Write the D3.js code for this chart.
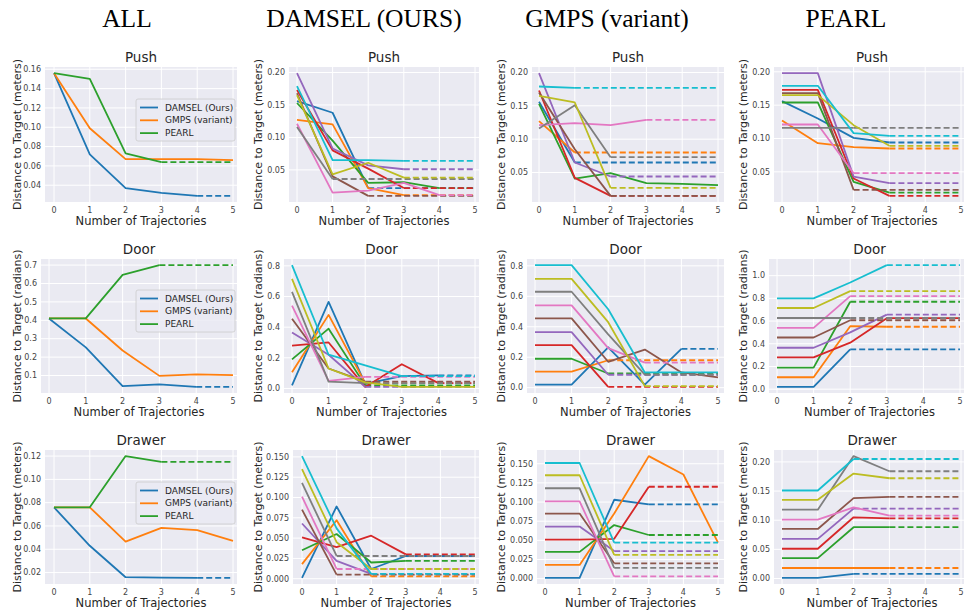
<!DOCTYPE html>
<html>
<head>
<meta charset="utf-8">
<script src="https://cdn.jsdelivr.net/npm/d3@7"></script>
<style>
  body { margin: 0; background: #fff; }
  svg { display: block; }
</style>
</head>
<body>
<svg id="chart" width="964" height="610"></svg>
<script>
// ---- data ----
var steps = [0, 1, 2, 3, 4, 5];
var columnTitles = ["ALL", "DAMSEL (OURS)", "GMPS (variant)", "PEARL"];
var taskNames = ["Push", "Door", "Drawer"];
var units = ["meters", "radians", "meters"];
var methodNames = ["DAMSEL (Ours)", "GMPS (variant)", "PEARL"];

// "ALL" column: one series per method (short series continue dashed to 5)
var allPush = [
  [0.156, 0.072, 0.037, 0.032, 0.029],
  [0.156, 0.099, 0.067, 0.067, 0.067, 0.066],
  [0.156, 0.150, 0.073, 0.064]
];
var allDoor = [
  [0.41, 0.253, 0.042, 0.052, 0.038],
  [0.41, 0.41, 0.236, 0.098, 0.106, 0.102],
  [0.41, 0.41, 0.647, 0.70]
];
var allDrawer = [
  [0.076, 0.043, 0.016, 0.0157, 0.0154],
  [0.076, 0.076, 0.0466, 0.0584, 0.0564, 0.0472],
  [0.076, 0.076, 0.120, 0.115]
];

// per-method columns: ten test tasks each
var damselPush = [
  [0.156, 0.138, 0.022],
  [0.127, 0.120, 0.022, 0.011],
  [0.153, 0.095, 0.030, 0.031, 0.022],
  [0.173, 0.080, 0.052, 0.022],
  [0.199, 0.083, 0.057, 0.051],
  [0.168, 0.040, 0.010],
  [0.121, 0.015, 0.018, 0.030, 0.011],
  [0.116, 0.036],
  [0.165, 0.043, 0.061, 0.038],
  [0.179, 0.065, 0.065, 0.064]
];
var gmpsPush = [
  [0.156, 0.065],
  [0.127, 0.080],
  [0.153, 0.041, 0.049, 0.034, 0.033, 0.031],
  [0.173, 0.042, 0.015],
  [0.199, 0.065, 0.044],
  [0.170, 0.085, 0.015],
  [0.121, 0.124, 0.121, 0.129],
  [0.116, 0.151, 0.073],
  [0.165, 0.155, 0.027],
  [0.179, 0.177]
];
var pearlPush = [
  [0.156, 0.130, 0.101, 0.094],
  [0.127, 0.093, 0.087, 0.085],
  [0.154, 0.154, 0.035, 0.019],
  [0.173, 0.173, 0.040, 0.014],
  [0.198, 0.198, 0.043, 0.033],
  [0.168, 0.168, 0.023],
  [0.121, 0.121, 0.048],
  [0.116, 0.116, 0.116],
  [0.165, 0.165, 0.120, 0.089],
  [0.179, 0.179, 0.108, 0.104]
];

var damselDoor = [
  [0.02, 0.565, 0.03, 0.08, 0.085],
  [0.105, 0.48, 0.035],
  [0.19, 0.39, 0.02],
  [0.28, 0.30, 0.01, 0.158, 0.035],
  [0.365, 0.22, 0.01],
  [0.455, 0.13, 0.045],
  [0.54, 0.05, 0.075],
  [0.63, 0.045, 0.035],
  [0.715, 0.13, 0.04, 0.01, 0.01, 0.01],
  [0.805, 0.22, 0.15, 0.08]
];
var gmpsDoor = [
  [0.02, 0.02, 0.265, 0.02, 0.255],
  [0.105, 0.105, 0.18],
  [0.19, 0.19, 0.093],
  [0.28, 0.28, 0.005],
  [0.365, 0.365, 0.085],
  [0.455, 0.455, 0.17, 0.25, 0.10, 0.067],
  [0.54, 0.54, 0.26, 0.165],
  [0.63, 0.63, 0.35, 0.085],
  [0.715, 0.715, 0.43, 0.01],
  [0.805, 0.805, 0.515, 0.10, 0.10, 0.10]
];
var pearlDoor = [
  [0.02, 0.02, 0.35],
  [0.105, 0.105, 0.555, 0.55],
  [0.19, 0.19, 0.77],
  [0.28, 0.28, 0.41, 0.625, 0.625, 0.625],
  [0.365, 0.365, 0.50, 0.657],
  [0.455, 0.455, 0.607],
  [0.54, 0.54, 0.82],
  [0.627, 0.627, 0.627],
  [0.715, 0.715, 0.864],
  [0.80, 0.80, 0.94, 1.093]
];

var damselDrawer = [
  [0.001, 0.089, 0.012, 0.028],
  [0.018, 0.072, 0.003],
  [0.035, 0.055, 0.020, 0.022],
  [0.051, 0.039, 0.053, 0.030],
  [0.068, 0.022, 0.006],
  [0.085, 0.005],
  [0.101, 0.012],
  [0.118, 0.028],
  [0.135, 0.045, 0.012],
  [0.151, 0.062, 0.006]
];
var gmpsDrawer = [
  [0.001, 0.001, 0.103, 0.097],
  [0.018, 0.018, 0.085, 0.160, 0.136, 0.047],
  [0.035, 0.035, 0.070, 0.057],
  [0.051, 0.051, 0.052, 0.120],
  [0.068, 0.068, 0.036],
  [0.085, 0.085, 0.020],
  [0.101, 0.101, 0.003],
  [0.118, 0.118, 0.014],
  [0.135, 0.135, 0.031],
  [0.151, 0.151, 0.047]
];
var pearlDrawer = [
  [0.001, 0.001, 0.008],
  [0.018, 0.018, 0.018, 0.018],
  [0.035, 0.035, 0.088, 0.088],
  [0.051, 0.051, 0.105, 0.103],
  [0.068, 0.068, 0.120],
  [0.085, 0.085, 0.138, 0.140],
  [0.101, 0.101, 0.122, 0.108],
  [0.118, 0.118, 0.210, 0.184],
  [0.135, 0.135, 0.180, 0.172],
  [0.151, 0.151, 0.205]
];

// y tick values per panel (row-major)
var yTicks = [
  [0.04, 0.06, 0.08, 0.10, 0.12, 0.14, 0.16],
  [0.05, 0.10, 0.15, 0.20],
  [0.05, 0.10, 0.15, 0.20],
  [0.05, 0.10, 0.15, 0.20],
  [0.1, 0.2, 0.3, 0.4, 0.5, 0.6, 0.7],
  [0.0, 0.2, 0.4, 0.6, 0.8],
  [0.0, 0.2, 0.4, 0.6, 0.8],
  [0.0, 0.2, 0.4, 0.6, 0.8, 1.0],
  [0.02, 0.04, 0.06, 0.08, 0.10, 0.12],
  [0.000, 0.025, 0.050, 0.075, 0.100, 0.125, 0.150],
  [0.000, 0.025, 0.050, 0.075, 0.100, 0.125, 0.150],
  [0.00, 0.05, 0.10, 0.15, 0.20]
];
var yDecimals = [2, 2, 2, 2, 1, 1, 1, 1, 2, 3, 3, 2];

var panelData = [
  allPush, damselPush, gmpsPush, pearlPush,
  allDoor, damselDoor, gmpsDoor, pearlDoor,
  allDrawer, damselDrawer, gmpsDrawer, pearlDrawer
];

// ---- layout ----
var rowTop = [67, 259, 450];
var rowBottom = [202, 393, 584];
var colTitleX = [127, 364, 607, 846];
var yLabelX = [17, 258, 501, 743];
// plot box left/right and pixel of x=0 / x=5 for each panel
var boxes = [
  {left: 45, right: 237, x0: 54, x5: 233},
  {left: 289, right: 479, x0: 297, x5: 475},
  {left: 532, right: 724, x0: 539, x5: 718},
  {left: 774, right: 970, x0: 782, x5: 961},
  {left: 41, right: 237, x0: 49, x5: 233},
  {left: 284, right: 479, x0: 292, x5: 475},
  {left: 527, right: 724, x0: 535, x5: 718},
  {left: 769, right: 970, x0: 777, x5: 960},
  {left: 45, right: 237, x0: 54, x5: 233},
  {left: 293, right: 479, x0: 302, x5: 475},
  {left: 537, right: 724, x0: 545, x5: 718},
  {left: 774, right: 970, x0: 782, x5: 961}
];
var legendTop = [99, 290, 482];

var colors = d3.schemeCategory10;
var bg = "#EAEAF2";
var font = "DejaVu Sans, Noto Sans, sans-serif";
var lineW = 1.8;

var svg = d3.select("#chart");

// column headers
svg.selectAll(".coltitle")
  .data(columnTitles)
  .enter()
  .append("text")
  .attr("class", "coltitle")
  .attr("x", function(d, i) { return colTitleX[i]; })
  .attr("y", 27)
  .attr("text-anchor", "middle")
  .style("font-family", "Liberation Serif, Times New Roman, serif")
  .style("font-size", "25.5px")
  .style("fill", "#000")
  .text(function(d) { return d; });

panelData.forEach(function(series, p) {
  var row = Math.floor(p / 4);
  var col = p % 4;
  var b = boxes[p];
  var top = rowTop[row], bottom = rowBottom[row];

  var lo = d3.min(series, function(s) { return d3.min(s); });
  var hi = d3.max(series, function(s) { return d3.max(s); });
  var pad = (hi - lo) * 0.05;

  var x = d3.scaleLinear().domain([0, 5]).range([b.x0, b.x5]);
  var y = d3.scaleLinear().domain([lo - pad, hi + pad]).range([bottom, top]);

  var g = svg.append("g");
  var clipId = "clip" + p;
  g.append("clipPath").attr("id", clipId)
    .append("rect")
    .attr("x", b.left).attr("y", top)
    .attr("width", b.right - b.left).attr("height", bottom - top);

  g.append("rect")
    .attr("x", b.left).attr("y", top)
    .attr("width", b.right - b.left).attr("height", bottom - top)
    .style("fill", bg);

  // grid
  g.selectAll(".vgrid")
    .data(steps)
    .enter()
    .append("line")
    .attr("x1", function(d) { return x(d); })
    .attr("x2", function(d) { return x(d); })
    .attr("y1", top).attr("y2", bottom)
    .style("stroke", "#fff").style("stroke-width", 1);

  g.selectAll(".hgrid")
    .data(yTicks[p])
    .enter()
    .append("line")
    .attr("x1", b.left).attr("x2", b.right)
    .attr("y1", function(d) { return y(d); })
    .attr("y2", function(d) { return y(d); })
    .style("stroke", "#fff").style("stroke-width", 1);

  // tick labels
  var fmt = d3.format("." + yDecimals[p] + "f");
  g.selectAll(".ytick")
    .data(yTicks[p])
    .enter()
    .append("text")
    .attr("x", b.left - 4)
    .attr("y", function(d) { return y(d); })
    .attr("dy", "0.35em")
    .attr("text-anchor", "end")
    .style("font-family", font).style("font-size", "8px").style("fill", "#444")
    .text(function(d) { return fmt(d); });

  g.selectAll(".xtick")
    .data(steps)
    .enter()
    .append("text")
    .attr("x", function(d) { return x(d); })
    .attr("y", bottom + 11)
    .attr("text-anchor", "middle")
    .style("font-family", font).style("font-size", "8px").style("fill", "#444")
    .text(function(d) { return d; });

  // labels
  g.append("text")
    .attr("x", (b.left + Math.min(b.right, 964)) / 2 + (col == 3 ? 3 : 0))
    .attr("y", top - 5)
    .attr("text-anchor", "middle")
    .style("font-family", font).style("font-size", "13.5px").style("fill", "#262626")
    .text(taskNames[row]);

  g.append("text")
    .attr("x", (b.left + b.right) / 2)
    .attr("y", bottom + 23)
    .attr("text-anchor", "middle")
    .style("font-family", font).style("font-size", "11.5px").style("fill", "#262626")
    .text("Number of Trajectories");

  g.append("text")
    .attr("transform", "translate(" + yLabelX[col] + "," + ((top + bottom) / 2) + ") rotate(-90)")
    .attr("dy", "0.35em")
    .attr("text-anchor", "middle")
    .style("font-family", font).style("font-size", "11px").style("fill", "#262626")
    .text("Distance to Target (" + units[row] + ")");

  // lines
  var line = d3.line()
    .x(function(d, i) { return x(steps[i]); })
    .y(function(d) { return y(d); });

  var plot = g.append("g").attr("clip-path", "url(#" + clipId + ")");
  series.forEach(function(s, i) {
    var c = colors[i];
    plot.append("path")
      .datum(s)
      .attr("d", line)
      .style("fill", "none").style("stroke", c)
      .style("stroke-width", lineW).style("stroke-linejoin", "round");
    if (s.length < steps.length) {
      var last = s[s.length - 1];
      plot.append("line")
        .attr("x1", x(s.length - 1)).attr("x2", x(5))
        .attr("y1", y(last)).attr("y2", y(last))
        .style("stroke", c).style("stroke-width", lineW)
        .style("stroke-dasharray", "6,3");
    }
  });

  // legend on ALL column
  if (col == 0) {
    var lx = b.right - 101, ly = legendTop[row];
    var leg = g.append("g");
    leg.append("rect")
      .attr("x", lx).attr("y", ly)
      .attr("width", 99).attr("height", 42)
      .attr("rx", 2)
      .style("fill", bg).style("fill-opacity", 0.8)
      .style("stroke", "#ccc").style("stroke-width", 0.8);
    methodNames.forEach(function(m, i) {
      var yy = ly + 8.5 + i * 12.8;
      leg.append("line")
        .attr("x1", lx + 4).attr("x2", lx + 22)
        .attr("y1", yy).attr("y2", yy)
        .style("stroke", colors[i]).style("stroke-width", lineW);
      leg.append("text")
        .attr("x", lx + 29).attr("y", yy)
        .attr("dy", "0.35em")
        .style("font-family", font).style("font-size", "9px").style("fill", "#262626")
        .text(m);
    });
  }
});
</script>
</body>
</html>
